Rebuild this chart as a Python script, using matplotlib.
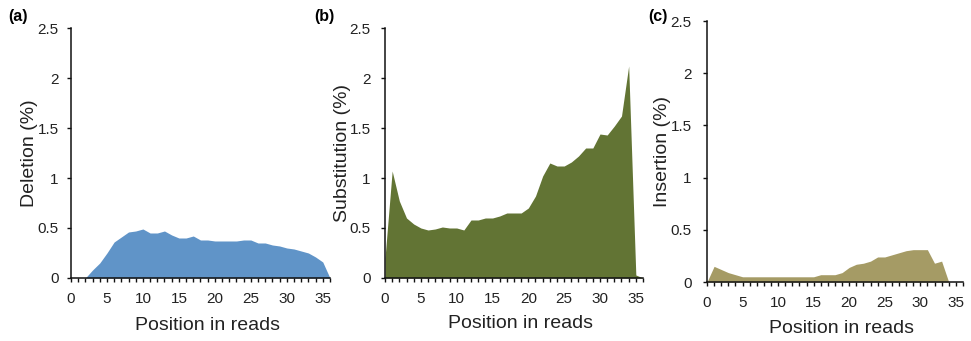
#Three area charts: deletion, substitution and insertion rates along the read position

import numpy as np
import matplotlib.pyplot as plt
from matplotlib.ticker import MultipleLocator

plt.rcParams['font.family'] = ['Liberation Sans', 'DejaVu Sans']

#Values read per position in the read
deletion = [0, 0, 0, 0.08, 0.15, 0.25, 0.36, 0.41, 0.46, 0.47, 0.49, 0.45, 0.45, 0.47,
            0.43, 0.40, 0.40, 0.42, 0.38, 0.38, 0.37, 0.37, 0.37, 0.37, 0.38, 0.38,
            0.35, 0.35, 0.33, 0.32, 0.30, 0.29, 0.27, 0.25, 0.21, 0.16, 0]
substitution = [0.2, 1.07, 0.77, 0.60, 0.54, 0.50, 0.48, 0.49, 0.51, 0.50, 0.50, 0.48,
                0.58, 0.58, 0.60, 0.60, 0.62, 0.65, 0.65, 0.65, 0.70, 0.82, 1.02, 1.15,
                1.12, 1.12, 1.16, 1.22, 1.30, 1.30, 1.44, 1.43, 1.52, 1.62, 2.12, 0.03, 0]
insertion = [0, 0.15, 0.12, 0.09, 0.07, 0.05, 0.05, 0.05, 0.05, 0.05, 0.05, 0.05, 0.05,
             0.05, 0.05, 0.05, 0.07, 0.07, 0.07, 0.09, 0.14, 0.17, 0.18, 0.20, 0.24, 0.24,
             0.26, 0.28, 0.30, 0.31, 0.31, 0.31, 0.18, 0.20, 0]

ylabels = ['Deletion (%)', 'Substitution (%)', 'Insertion (%)']
panels = ['(a)', '(b)', '(c)']
colors = ['#6094c8', '#627434', '#a59b65']
series = [deletion, substitution, insertion]

fig = plt.figure(figsize=(9.71, 3.41), dpi=100)

#axes rectangles, in figure fraction
rects = [[0.0731, 0.1848, 0.2667, 0.733],
         [0.3965, 0.1848, 0.2657, 0.733],
         [0.7281, 0.173, 0.2636, 0.765]]
ylab_x = [-0.127, -0.132, -0.141]
xlab_y = [-0.156, -0.148, -0.146]
ypads = [5.8, 7.2, 8]
panel_xy = [(18, 17), (324, 17), (658, 17)]

for i in range(3):
    ax = fig.add_axes(rects[i])
    vals = series[i]
    pos = np.arange(len(vals))
    ax.fill_between(pos, vals, 0, color=colors[i], linewidth=0)

    ax.set_xlim(0, 36)
    ax.set_ylim(0, 2.5)
    ax.set_yticks([0, 0.5, 1, 1.5, 2, 2.5])
    ax.set_yticklabels(['0', '0.5', '1', '1.5', '2', '2.5'])
    ax.set_xticks(range(0, 36, 5))
    ax.xaxis.set_minor_locator(MultipleLocator(1))

    for s in ['top', 'right']:
        ax.spines[s].set_visible(False)
    for s in ['left', 'bottom']:
        ax.spines[s].set_linewidth(1.1)
        ax.spines[s].set_color('#111111')

    ax.tick_params(axis='both', which='both', direction='out', length=3, width=1,
                   color='#111111', labelsize=11, labelcolor='#222222')
    ax.tick_params(axis='x', pad=7)
    ax.tick_params(axis='y', pad=ypads[i])

    ax.set_ylabel(ylabels[i], fontsize=14, color='#222222')
    ax.yaxis.set_label_coords(ylab_x[i], 0.5)
    ax.set_xlabel('Position in reads', fontsize=14, color='#222222')
    ax.xaxis.set_label_coords(0.527, xlab_y[i])

    fig.text(panel_xy[i][0] / 971, 1 - panel_xy[i][1] / 341, panels[i],
             fontsize=11.5, fontweight='bold', ha='center', va='center')

plt.savefig('out.png', dpi=100)
